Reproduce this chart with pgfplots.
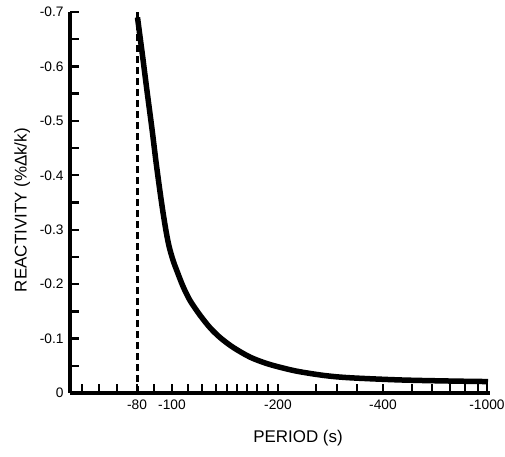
\documentclass[border=0pt]{standalone}
\usepackage{fontspec}
\setmainfont{Liberation Sans}
\usepackage{pgfplots}
\pgfplotsset{compat=1.18}

\begin{document}
\begin{tikzpicture}
\begin{axis}[
    scale only axis,
    width=420bp, height=381bp,
    xmin=70, xmax=490,
    ymin=-0.7, ymax=0,
    y dir=reverse,
    axis x line*=bottom, axis y line*=left,
    every outer x axis line/.append style={-, line width=3.5bp},
    every outer y axis line/.append style={-, line width=3.5bp},
    every inner x axis line/.append style={-, line width=3.5bp},
    every inner y axis line/.append style={-, line width=3.5bp},
    clip=false,
    % x positions are read off the picture (the period scale is not regular)
    xtick={137,172,278,383,487},
    xticklabels={-80,-100,-200,-400,-1000},
    minor xtick={82,99,117,154,188,202,216,227,237,247,257,268,316,337,357,412,432,450,465,478},
    ytick={0,-0.1,-0.2,-0.3,-0.4,-0.5,-0.6,-0.7},
    yticklabels={0,-0.1,-0.2,-0.3,-0.4,-0.5,-0.6,-0.7},
    minor ytick={-0.05,-0.15,-0.25,-0.35,-0.45,-0.55,-0.65},
    tick align=inside,
    major tick length=9bp, minor tick length=9bp,
    every tick/.append style={black, line width=2.4bp},
    every major tick/.append style={black, line width=2.4bp},
    every minor tick/.append style={black, line width=2.4bp},
    tick label style={font=\fontsize{13.8}{16}\selectfont},
    yticklabel style={xshift=-3bp},
    xticklabel style={yshift=-3bp},
    label style={font=\fontsize{17}{20}\selectfont},
    xlabel={PERIOD (s)},
    ylabel={REACTIVITY (\%Δk/k)},
    xlabel style={at={(axis description cs:0.543,-0.118)}, anchor=center},
    ylabel style={at={(axis description cs:-0.114,0.48)}, anchor=center},
]
\coordinate (bl) at (axis cs:70,0);
\coordinate (tr) at (axis cs:490,-0.7);

% critical period limit
\addplot[black, line width=3bp, dash pattern=on 7bp off 4bp] coordinates {(137,0) (137,-0.705)};

% reactivity vs period
\addplot[black, line width=5.5bp, smooth, tension=0.5] coordinates {
    (137.5,-0.690)
    (140,-0.655)
    (143,-0.613)
    (147,-0.555)
    (152,-0.485)
    (156,-0.425)
    (160,-0.370)
    (163,-0.332)
    (166,-0.298)
    (169,-0.270)
    (173,-0.244)
    (177,-0.224)
    (183,-0.196)
    (190,-0.170)
    (200,-0.143)
    (210,-0.120)
    (220,-0.102)
    (233,-0.084)
    (250,-0.066)
    (267,-0.054)
    (285,-0.045)
    (300,-0.039)
    (325,-0.032)
    (350,-0.028)
    (400,-0.024)
    (450,-0.022)
    (488,-0.021)
};
\end{axis}
\pgfresetboundingbox
\path ([shift={(-70bp,-64bp)}]bl) rectangle ([shift={(15bp,12bp)}]tr);
\end{tikzpicture}
\end{document}
